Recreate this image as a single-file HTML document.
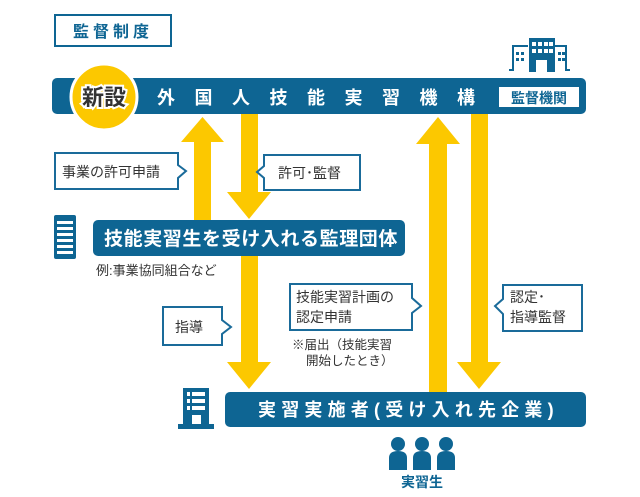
<!DOCTYPE html>
<html><head><meta charset="utf-8"><style>
html,body{margin:0;padding:0;background:#fff;}
svg{display:block;}
text{font-family:"Liberation Sans","Noto Sans CJK JP",sans-serif;}
</style></head><body>
<svg width="640" height="497" viewBox="0 0 640 497" xmlns="http://www.w3.org/2000/svg">
<!-- title -->
<rect x="55" y="15" width="116" height="31" fill="#fff" stroke="#0e6593" stroke-width="2"/>
<text x="113" y="37" font-size="16" font-weight="bold" fill="#0e6593" text-anchor="middle" letter-spacing="4">監督制度</text>

<!-- top building icon -->
<g fill="none" stroke="#0e6593" stroke-width="2">
<path d="M509 70 L513 70 L513 46 L528 46 M555 46 L566 46 L566 70 L570 70"/>
</g>
<rect x="529" y="38" width="26" height="34" fill="#0e6593"/>
<g fill="#fff">
<rect x="532" y="42" width="4" height="4"/><rect x="538" y="42" width="4" height="4"/><rect x="544" y="42" width="4" height="4"/><rect x="549" y="42" width="4" height="4"/>
<rect x="532" y="49" width="4" height="4"/><rect x="538" y="49" width="4" height="4"/><rect x="544" y="49" width="4" height="4"/><rect x="549" y="49" width="4" height="4"/>
<rect x="536" y="60" width="11" height="12"/>
</g>
<g fill="#0e6593"><rect x="516" y="52" width="3" height="3"/><rect x="521" y="52" width="3" height="3"/><rect x="516" y="58" width="3" height="3"/><rect x="521" y="58" width="3" height="3"/>
<rect x="558" y="52" width="3" height="3"/><rect x="562" y="52" width="3" height="3"/><rect x="558" y="58" width="3" height="3"/><rect x="562" y="58" width="3" height="3"/></g>

<!-- arrows -->
<g fill="#fcc800">
<rect x="194" y="140" width="17" height="82"/>
<polygon points="181,142 224,142 202.5,117"/>
<rect x="241" y="114" width="17" height="80"/>
<polygon points="227,192 271,192 249,219"/>
<rect x="241" y="255" width="17" height="110"/>
<polygon points="227,362 271,362 249,389"/>
<rect x="429" y="142" width="18" height="252"/>
<polygon points="416,144 460,144 438,117"/>
<rect x="471" y="114" width="17" height="250"/>
<polygon points="457,362 501,362 479,389"/>
</g>

<!-- top bar -->
<rect x="52" y="78" width="534" height="36" rx="5" fill="#0e6593"/>
<circle cx="104" cy="97" r="33" fill="#fcc800" stroke="#fff" stroke-width="3"/>
<text x="104" y="105" font-size="22" font-weight="bold" fill="#333" text-anchor="middle" stroke="#fff" stroke-width="4" paint-order="stroke">新設</text>
<text x="157" y="104" font-size="18" font-weight="bold" fill="#fff" letter-spacing="19.5">外国人技能実習機構</text>
<rect x="499" y="87" width="80" height="20" fill="#fff"/>
<text x="539" y="103" font-size="14" font-weight="bold" fill="#0e6593" text-anchor="middle">監督機関</text>

<!-- callouts -->
<g fill="#fff" stroke="#1a6b9a" stroke-width="2">
<path d="M55 153 L178 153 L178 165 L186 171 L178 178 L178 189 L55 189 Z"/>
<path d="M264 155 L360 155 L360 190 L264 190 L264 178 L257 172 L264 166 Z"/>
<path d="M163 307 L222 307 L222 320 L231 327 L222 334 L222 345 L163 345 Z"/>
<path d="M290 284 L412 284 L412 298 L421 306 L412 313 L412 330 L290 330 Z"/>
<path d="M503 285 L582 285 L582 331 L503 331 L503 314 L495 306 L503 299 Z"/>
</g>
<g font-size="14" fill="#333">
<text x="62" y="177">事業の許可申請</text>
<text x="278" y="178">許可･監督</text>
<text x="175" y="332">指導</text>
<text x="296" y="302">技能実習計画の</text>
<text x="296" y="322">認定申請</text>
<text x="510" y="302">認定･</text>
<text x="510" y="322">指導監督</text>
</g>
<text x="292" y="349" font-size="12.5" fill="#333">※届出（技能実習</text>
<text x="306" y="365" font-size="12.5" fill="#333">開始したとき）</text>

<!-- middle box -->
<rect x="93" y="220" width="312" height="36" rx="5" fill="#0e6593"/>
<text x="104" y="245" font-size="19" font-weight="bold" fill="#fff" letter-spacing="0.6">技能実習生を受け入れる監理団体</text>
<text x="96" y="275" font-size="13" fill="#333">例:事業協同組合など</text>
<rect x="54" y="215" width="22" height="44" rx="2" fill="#0e6593"/>
<g fill="#fff"><rect x="57" y="221" width="16" height="3"/><rect x="57" y="227" width="16" height="3"/><rect x="57" y="233" width="16" height="3"/><rect x="57" y="239" width="16" height="3"/><rect x="57" y="245" width="16" height="3"/><rect x="57" y="251" width="16" height="3"/></g>

<!-- bottom box -->
<rect x="225" y="392" width="361" height="35" rx="5" fill="#0e6593"/>
<text x="258" y="416" font-size="18" font-weight="bold" fill="#fff" letter-spacing="5.2">実習実施者(受け入れ先企業)</text>
<rect x="178" y="388" width="36" height="40" fill="#fff"/>
<rect x="183" y="388" width="26" height="36" fill="#0e6593"/>
<rect x="178" y="424" width="36" height="5" fill="#0e6593"/>
<g fill="#fff"><rect x="187" y="392" width="3" height="4"/><rect x="192" y="392" width="13" height="4"/><rect x="187" y="399" width="3" height="4"/><rect x="192" y="399" width="13" height="4"/><rect x="187" y="406" width="3" height="4"/><rect x="192" y="406" width="13" height="4"/><rect x="192" y="415" width="9" height="9"/></g>

<!-- people -->
<g fill="#0e6593">
<circle cx="398" cy="444" r="7"/><path d="M389 470 L389 458 Q389 451 398 451 Q407 451 407 458 L407 470 Z"/>
<circle cx="422" cy="444" r="7"/><path d="M413 470 L413 458 Q413 451 422 451 Q431 451 431 458 L431 470 Z"/>
<circle cx="446" cy="444" r="7"/><path d="M437 470 L437 458 Q437 451 446 451 Q455 451 455 458 L455 470 Z"/>
</g>
<text x="422" y="487" font-size="14" font-weight="bold" fill="#0e6593" text-anchor="middle">実習生</text>
</svg>
</body></html>
